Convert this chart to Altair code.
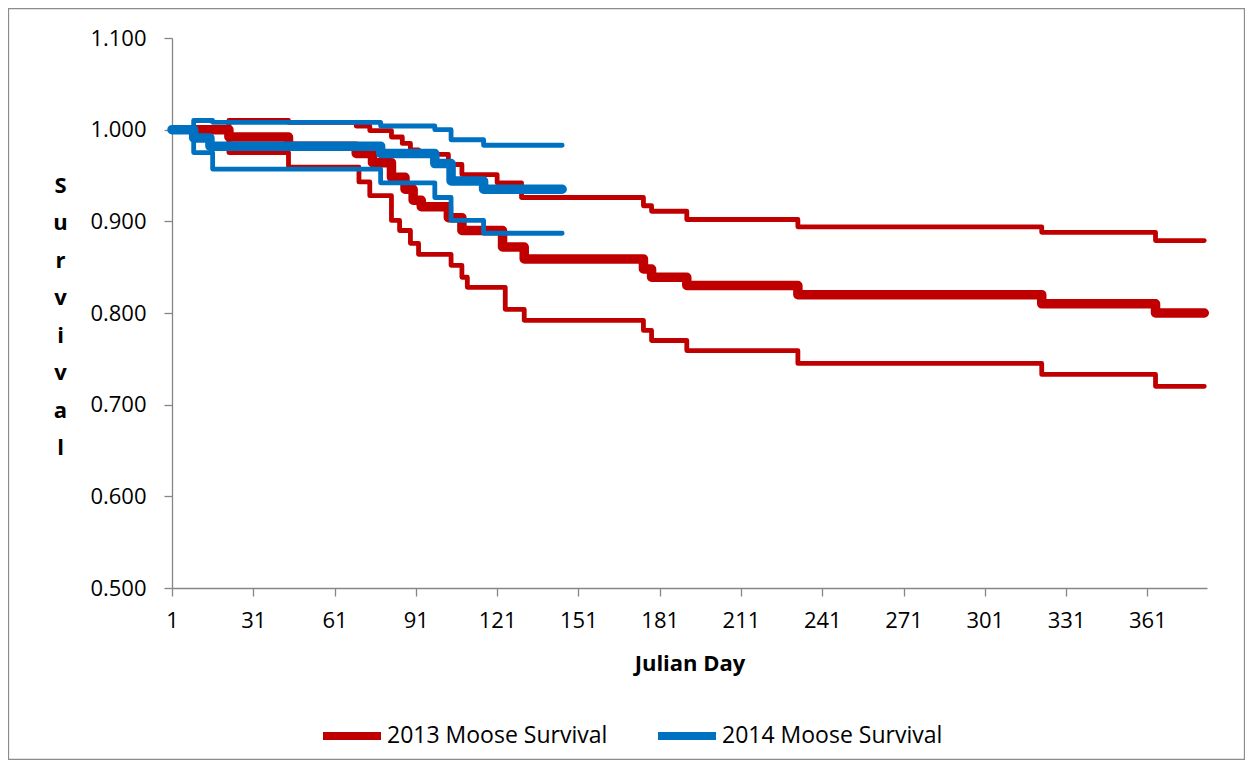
import altair as alt
import pandas as pd

# ---- data (change points of each survival curve) ----
red_mid_days = [10, 22, 44, 69, 75, 82, 87, 90, 93, 103, 108, 123, 131, 175, 178, 191, 232, 322, 364, 382]
red_mid_vals = [1.000, 0.992, 0.982, 0.974, 0.964, 0.948, 0.935, 0.923, 0.916, 0.904, 0.890, 0.872, 0.859,
                0.848, 0.839, 0.830, 0.820, 0.810, 0.800, 0.800]

red_up_days = [10, 22, 44, 69, 74, 82, 86, 89, 92, 103, 108, 121, 130, 175, 178, 191, 232, 322, 364, 382]
red_up_vals = [1.000, 1.010, 1.008, 1.004, 0.999, 0.992, 0.985, 0.978, 0.973, 0.962, 0.951, 0.942, 0.926,
               0.917, 0.911, 0.902, 0.894, 0.888, 0.879, 0.879]

red_lo_days = [10, 22, 44, 70, 74, 82, 85, 89, 92, 104, 108, 110, 124, 131, 175, 178, 191, 232, 322, 364, 382]
red_lo_vals = [1.000, 0.975, 0.959, 0.943, 0.928, 0.901, 0.890, 0.876, 0.864, 0.852, 0.839, 0.828, 0.804,
               0.792, 0.781, 0.770, 0.759, 0.745, 0.733, 0.720, 0.720]

blue_mid_days = [1, 9, 15, 78, 98, 104, 116, 145]
blue_mid_vals = [1.000, 0.991, 0.982, 0.974, 0.963, 0.944, 0.935, 0.935]

blue_up_days = [1, 9, 16, 78, 98, 104, 116, 145]
blue_up_vals = [1.000, 1.010, 1.008, 1.004, 1.000, 0.989, 0.983, 0.983]

blue_lo_days = [1, 9, 16, 78, 98, 104, 116, 145]
blue_lo_vals = [1.000, 0.975, 0.957, 0.942, 0.926, 0.901, 0.887, 0.887]

legend_labels = ["2013 Moose Survival", "2014 Moose Survival"]
colors = ["#C00000", "#0070C0"]
x_ticks = [1, 31, 61, 91, 121, 151, 181, 211, 241, 271, 301, 331, 361]
y_ticks = [0.5, 0.6, 0.7, 0.8, 0.9, 1.0, 1.1]

series = [
    ("r_mid", legend_labels[0], "thick", red_mid_days, red_mid_vals),
    ("r_up", legend_labels[0], "thin", red_up_days, red_up_vals),
    ("r_lo", legend_labels[0], "thin", red_lo_days, red_lo_vals),
    ("b_mid", legend_labels[1], "thick", blue_mid_days, blue_mid_vals),
    ("b_up", legend_labels[1], "thin", blue_up_days, blue_up_vals),
    ("b_lo", legend_labels[1], "thin", blue_lo_days, blue_lo_vals),
]
rows = []
for sid, lab, kind, ds, vs in series:
    for d, v in zip(ds, vs):
        rows.append({"series": sid, "label": lab, "kind": kind, "day": d, "value": v})
df = pd.DataFrame(rows)

FONT = "Open Sans"
AX = "#868686"

base = alt.Chart(df).encode(
    x=alt.X("day:Q",
            scale=alt.Scale(domain=[1, 383], nice=False, zero=False),
            axis=alt.Axis(values=x_ticks, format="d", grid=False, title="Julian Day",
                          tickSize=8, labelPadding=14, titleY=75, titleBaseline="middle",
                          labelFlush=False)),
    y=alt.Y("value:Q",
            scale=alt.Scale(domain=[0.5, 1.1], nice=False, zero=False),
            axis=alt.Axis(values=y_ticks, format=".3f", grid=False,
                          title=["S", "u", "r", "v", "i", "v", "a", "l"],
                          titleAngle=0, titleX=-112, titleY=147, titleAlign="center",
                          titleBaseline="middle", titleLineHeight=37.5,
                          tickSize=8, labelPadding=18)),
    color=alt.Color("label:N",
                    scale=alt.Scale(domain=legend_labels, range=colors),
                    legend=alt.Legend(title=None, orient="none", direction="horizontal",
                                      legendX=147, legendY=665, symbolType="stroke",
                                      symbolSize=3364, symbolStrokeWidth=8,
                                      labelOffset=2, columnPadding=34, padding=0,
                                      labelLimit=500,
                                      labelFont=FONT, labelFontSize=23, labelColor="black")),
    detail="series:N",
)

def lines(lab, kind, width):
    return base.transform_filter(
        (alt.datum.label == lab) & (alt.datum.kind == kind)
    ).mark_line(interpolate="step-after", strokeWidth=width, strokeCap="round", strokeJoin="round")

frame = alt.Chart(alt.Data(values=[{}])).mark_rect(
    fillOpacity=0, stroke="#8c8c8c", strokeWidth=1.3
).encode(
    x=alt.value(-163.5), x2=alt.value(1072.5), y=alt.value(-29.5), y2=alt.value(721.5)
)

chart = alt.layer(
    frame,
    lines(legend_labels[0], "thin", 4.8),
    lines(legend_labels[0], "thick", 9.5),
    lines(legend_labels[1], "thin", 4.8),
    lines(legend_labels[1], "thick", 9.5),
).properties(
    width=1035, height=550,
    padding={"left": 164, "top": 30, "right": 38, "bottom": 172},
    autosize=alt.AutoSizeParams(type="none"),
).configure_view(strokeWidth=0).configure_axis(
    domainColor=AX, tickColor=AX, domainWidth=1.3, tickWidth=1.3,
    labelFont=FONT, labelFontSize=22, labelColor="black",
    titleFont=FONT, titleFontSize=22, titleFontWeight="bold", titleColor="black",
)

chart.save("out.html", embed_options={"renderer": "svg", "actions": False})
